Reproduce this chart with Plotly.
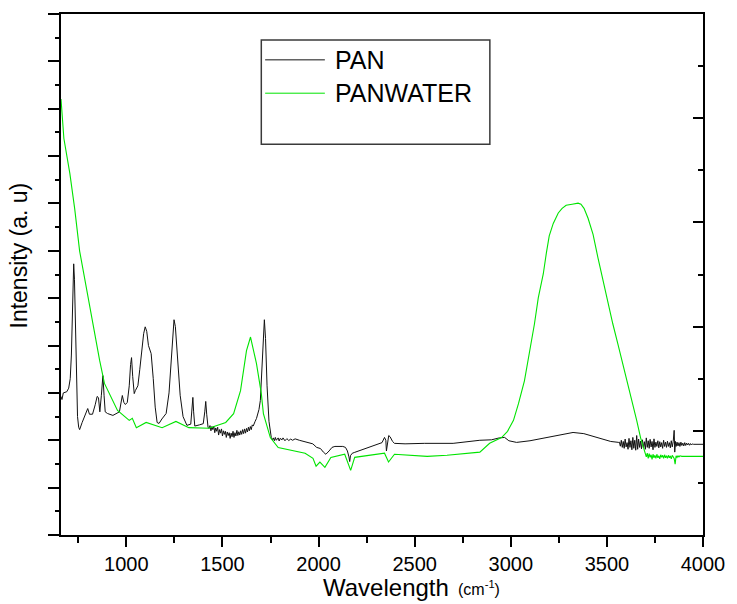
import plotly.graph_objects as go

# ---- PAN spectrum (left intensity axis, arbitrary units) ----
pan_wn = [
    660, 665, 672, 690, 700, 708, 714, 720, 726, 730, 735, 740, 746, 752, 757,
    770, 790, 799, 808, 824, 838, 848, 855, 862, 870, 878, 884, 890, 902,
    930, 964, 972, 979, 987, 995, 1005, 1015, 1022, 1027, 1033, 1041, 1047,
    1052, 1060, 1070, 1080, 1090, 1098, 1106, 1115, 1129, 1140, 1150, 1160,
    1170, 1185, 1207, 1222, 1235, 1243, 1248, 1255, 1265, 1280, 1295, 1315,
    1335, 1342, 1346, 1350, 1356, 1380, 1400, 1408, 1413, 1418, 1425,
    1430, 1435, 1440, 1445, 1450, 1455, 1460, 1465, 1470, 1475, 1480, 1485,
    1490, 1495, 1500, 1505, 1510, 1515, 1520, 1525, 1530, 1535, 1540, 1545,
    1550, 1555, 1560, 1565, 1570, 1575, 1580, 1585, 1590, 1595, 1600, 1605,
    1610, 1615, 1620, 1625, 1630, 1635, 1640, 1645, 1650, 1655, 1660, 1665,
    1670, 1677, 1690, 1697, 1705, 1712, 1718, 1724, 1732, 1742,
    1754, 1760, 1765, 1770, 1775, 1780, 1790, 1795, 1800, 1810, 1815, 1825,
    1835, 1845, 1855, 1865, 1878, 1900, 1920, 1945, 1970, 1990, 2010, 2025,
    2038, 2055, 2070, 2085, 2110, 2126, 2140, 2150, 2158, 2162, 2166, 2175,
    2188, 2220, 2260, 2300, 2330, 2343, 2350, 2353, 2358, 2365, 2372, 2385,
    2395, 2450, 2550, 2700, 2839, 2900, 2940, 2968, 2990, 3030, 3100, 3200,
    3280, 3324, 3380, 3450, 3520, 3562,
    3565, 3570, 3575, 3580, 3585, 3590, 3595, 3600, 3605, 3610, 3615, 3620,
    3625, 3630, 3635, 3640, 3645, 3650, 3655, 3660, 3665, 3670, 3675, 3680,
    3685, 3690, 3695, 3700, 3705, 3710, 3715, 3720, 3725, 3730, 3735, 3740,
    3745, 3750, 3755, 3760, 3765, 3770, 3775, 3780, 3785, 3790, 3795, 3800,
    3805, 3810, 3815, 3820, 3825, 3830, 3835, 3840, 3845, 3850, 3853, 3857,
    3860, 3865, 3870, 3875, 3880, 3885, 3890, 3895, 3900, 3905, 3910, 3915,
    3920, 3925, 3930, 3935, 3940, 3945, 3950, 4000,
]
pan_int = [
    5.85, 5.72, 6.00, 6.05, 6.20, 6.60, 7.60, 9.80, 11.45, 10.80, 8.40, 6.20,
    5.00, 4.55, 4.45,
    4.75, 5.15, 5.34, 5.10, 5.10, 5.50, 5.85, 5.80, 5.20, 5.90, 6.73, 5.90,
    5.20, 5.13,
    5.05, 5.20, 5.60, 5.89, 5.60, 5.51, 5.60, 6.30, 7.20, 7.49, 6.70, 5.97,
    6.10, 6.18, 6.30, 7.00, 7.90, 8.50, 8.79, 8.60, 8.00, 7.66, 6.60, 5.40,
    4.75, 4.71, 4.90, 5.13, 6.00, 7.80, 8.90, 9.09, 8.80, 7.60, 5.90, 5.00,
    4.63, 4.68, 5.30, 5.81, 5.20, 4.60, 4.65, 4.70, 5.20, 5.64, 5.10, 4.55,
    4.50, 4.62, 4.40, 4.58, 4.45, 4.60, 4.32, 4.52, 4.38, 4.55, 4.22, 4.45,
    4.30, 4.48, 4.18, 4.40, 4.25, 4.38, 4.12, 4.35, 4.20, 4.32, 4.08, 4.30,
    4.15, 4.38, 4.12, 4.32, 4.18, 4.42, 4.20, 4.36, 4.22, 4.40, 4.25, 4.45,
    4.28, 4.48, 4.30, 4.50, 4.35, 4.55, 4.40, 4.58, 4.45, 4.65, 4.60, 4.75,
    4.80, 4.92, 5.30, 5.68, 7.00, 8.60, 9.09, 8.30, 6.30, 4.80,
    4.12, 4.02, 4.10, 3.98, 4.12, 4.00, 4.10, 3.97, 4.08, 4.02, 4.10, 3.98,
    4.07, 3.99, 4.05, 4.00, 4.06, 4.00, 3.95, 3.91, 3.85, 3.70, 3.65, 3.50,
    3.41, 3.55, 3.70, 3.74, 3.75, 3.74, 3.70, 3.55, 3.30, 3.10, 3.35, 3.45,
    3.49, 3.58, 3.70, 3.80, 3.90, 4.12, 4.00, 3.55, 3.80, 4.20, 4.15, 3.95,
    3.87, 3.85, 3.87, 3.87, 4.00, 4.02, 4.10, 4.12, 3.98, 3.91, 3.98, 4.15,
    4.28, 4.33, 4.28, 4.12, 3.95, 3.91,
    3.92, 3.75, 4.00, 3.70, 3.95, 3.66, 4.05, 3.72, 3.90, 3.62, 4.08, 3.70,
    3.98, 3.60, 4.12, 3.66, 4.00, 3.58, 4.20, 3.62, 4.05, 3.70, 3.96, 3.64,
    4.02, 3.68, 3.94, 3.62, 4.10, 3.70, 3.98, 3.66, 4.04, 3.72, 3.95, 3.60,
    4.06, 3.70, 3.92, 3.74, 3.98, 3.68, 3.94, 3.72, 3.90, 3.66, 4.00, 3.74,
    3.92, 3.70, 3.96, 3.74, 3.90, 3.68, 3.98, 3.72, 3.95, 4.42, 3.50, 3.95,
    3.74, 3.92, 3.76, 3.90, 3.74, 3.92, 3.78, 3.88, 3.76, 3.90, 3.78, 3.88,
    3.80, 3.87, 3.79, 3.86, 3.80, 3.85, 3.83, 3.83,
]

# ---- PANWATER spectrum (right intensity axis, arbitrary units) ----
water_wn = [
    660, 664, 675, 706, 731, 757, 804, 835, 861, 886, 928, 948, 954,
    1015, 1031, 1052, 1103, 1186, 1258, 1325, 1429, 1517, 1558, 1594, 1625,
    1646, 1677, 1702, 1713, 1749, 1790, 1930, 1971, 1987, 2007, 2033, 2064,
    2136, 2167, 2188, 2343, 2364, 2395, 2565, 2668, 2839, 2890, 2952, 2983,
    3014, 3040, 3071, 3097, 3123, 3143, 3169, 3185, 3200, 3221, 3247, 3267,
    3288, 3319, 3350, 3365, 3381, 3402, 3428, 3453, 3479, 3505, 3531, 3557,
    3583, 3609, 3634, 3655, 3675,
    3700, 3705, 3710, 3715, 3720, 3725, 3730, 3735, 3740, 3745, 3750, 3755,
    3760, 3765, 3770, 3775, 3780, 3785, 3790, 3795, 3800, 3805, 3810, 3815,
    3820, 3825, 3830, 3835, 3840, 3845, 3850, 3855, 3860, 3865, 3870, 3875,
    3880, 3890, 4000,
]
water_int = [
    8.37, 8.13, 7.61, 6.94, 6.27, 5.45, 4.49, 3.92, 3.35, 2.91, 2.58, 2.45,
    2.39, 2.20, 2.24, 2.06, 2.16, 2.06, 2.18, 2.06, 2.05, 2.16, 2.33, 2.77,
    3.54, 3.80, 3.29, 2.72, 2.33, 1.87, 1.68, 1.57, 1.47, 1.32, 1.40, 1.30,
    1.49, 1.55, 1.24, 1.49, 1.57, 1.40, 1.55, 1.51, 1.53, 1.59, 1.76, 1.87,
    1.99, 2.20, 2.52, 2.96, 3.50, 4.05, 4.55, 5.01, 5.41, 5.74, 5.98, 6.18,
    6.27, 6.33, 6.35, 6.37, 6.35, 6.27, 6.08, 5.77, 5.33, 4.88, 4.46, 4.05,
    3.67, 3.29, 2.91, 2.52, 2.20, 1.87,
    1.59, 1.50, 1.57, 1.47, 1.56, 1.49, 1.54, 1.45, 1.55, 1.48, 1.53, 1.47,
    1.55, 1.48, 1.52, 1.46, 1.54, 1.49, 1.53, 1.47, 1.54, 1.48, 1.52, 1.47,
    1.53, 1.48, 1.52, 1.46, 1.53, 1.49, 1.47, 1.36, 1.52, 1.49, 1.52, 1.50,
    1.52, 1.51, 1.51,
]

series_names = ["PAN", "PANWATER"]
series_colors = ["#111111", "#00e400"]

FONT = "Liberation Sans, Arial, sans-serif"

fig = go.Figure()
fig.add_trace(go.Scatter(
    x=pan_wn, y=pan_int, mode="lines", name=series_names[0],
    line=dict(color=series_colors[0], width=1), yaxis="y", showlegend=False,
))
fig.add_trace(go.Scatter(
    x=water_wn, y=water_int, mode="lines", name=series_names[1],
    line=dict(color=series_colors[1], width=1.1), yaxis="y2", showlegend=False,
))

fig.update_layout(
    width=737, height=604,
    margin=dict(l=61, r=29, t=12, b=69),
    paper_bgcolor="white", plot_bgcolor="white",
    font=dict(family=FONT, color="black"),
    xaxis=dict(
        range=[660, 4000], tick0=1000, dtick=500,
        showgrid=False, zeroline=False,
        showline=True, linewidth=2, linecolor="black", mirror=True,
        ticks="outside", ticklen=10, tickwidth=2, tickcolor="black",
        minor=dict(dtick=250, tick0=750, ticks="outside", ticklen=6,
                   tickwidth=2, tickcolor="black", showgrid=False),
        tickfont=dict(size=20, family=FONT),
    ),
    yaxis=dict(
        range=[0, 22], tick0=0, dtick=2,
        showgrid=False, zeroline=False, showticklabels=False,
        showline=True, linewidth=2, linecolor="black",
        ticks="outside", ticklen=11, tickwidth=2, tickcolor="black",
        minor=dict(dtick=1, tick0=0, ticks="outside", ticklen=4,
                   tickwidth=2, tickcolor="black", showgrid=False),
    ),
    yaxis2=dict(
        range=[0, 10], tick0=0, dtick=2, overlaying="y", side="right",
        showgrid=False, zeroline=False, showticklabels=False,
        showline=True, linewidth=2, linecolor="black",
        ticks="inside", ticklen=10, tickwidth=2, tickcolor="black",
        minor=dict(dtick=1, tick0=0, ticks="inside", ticklen=5,
                   tickwidth=2, tickcolor="black", showgrid=False),
    ),
)

# Axis titles
fig.add_annotation(text="Wavelength", xref="paper", yref="paper",
                   x=0.405, y=-0.101, xanchor="left", yanchor="middle",
                   showarrow=False, font=dict(size=24, family=FONT))
fig.add_annotation(text="(cm<sup>-1</sup>)", xref="paper", yref="paper",
                   x=0.615, y=-0.101, xanchor="left", yanchor="middle",
                   showarrow=False, font=dict(size=16, family=FONT))
fig.add_annotation(text="Intensity (a. u)", xref="paper", yref="paper",
                   x=-0.065, y=0.537, xanchor="center", yanchor="middle",
                   textangle=-90, showarrow=False, font=dict(size=23, family=FONT))

# Legend box with line samples and labels
fig.add_shape(type="rect", xref="paper", yref="paper",
              x0=0.312, x1=0.668, y0=0.750, y1=0.950,
              line=dict(color="#3a3a3a", width=1.5), fillcolor="rgba(0,0,0,0)")
legend_y = [0.912, 0.848]
for name, color, ly in zip(series_names, series_colors, legend_y):
    fig.add_shape(type="line", xref="paper", yref="paper",
                  x0=0.318, x1=0.411, y0=ly, y1=ly,
                  line=dict(color=color, width=1))
    fig.add_annotation(text=name, xref="paper", yref="paper",
                       x=0.424, y=ly, xanchor="left", yanchor="middle",
                       showarrow=False, font=dict(size=25, family=FONT))

fig.write_html("out.html")
